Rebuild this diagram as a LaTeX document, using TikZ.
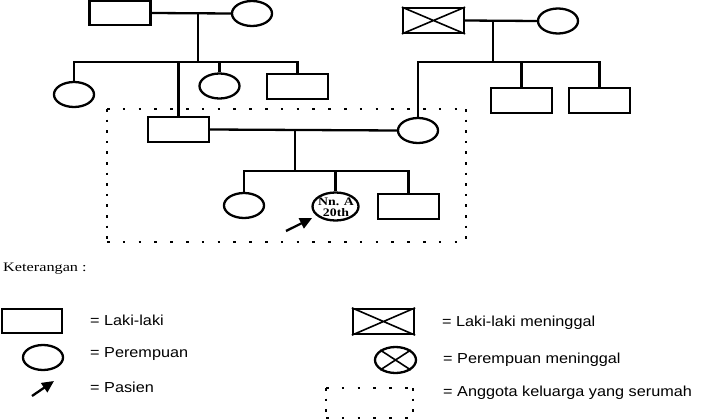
\documentclass[tikz,border=0pt]{standalone}
\usepackage{fontspec}
\setmainfont{Liberation Serif}
\newfontfamily\lsans[FakeStretch=1.12]{Liberation Sans}
\newfontfamily\kserif[FakeStretch=1.25]{Liberation Serif}
\newfontfamily\pserif[FakeStretch=1.2]{Liberation Serif Bold}
\usetikzlibrary{shapes.geometric,arrows.meta}
\tikzset{
  male/.style={draw, rectangle, line width=2.3pt, minimum width=61pt, minimum height=24.5pt, inner sep=0pt},
  female/.style={draw, ellipse, line width=2.3pt, minimum width=40pt, minimum height=25pt, inner sep=0pt},
  link/.style={line width=2.3pt},
  cross/.style={line width=1.6pt},
  dotsH/.style={line width=2.5pt, dash pattern=on 2.5pt off 13.3pt},
  dotsV/.style={line width=2.5pt, dash pattern=on 2.5pt off 8.1pt},
  patarrow/.style={line width=2.3pt, -{Triangle[length=12pt,width=11pt]}},
  legtext/.style={anchor=west, inner sep=0pt, font=\lsans\fontsize{14.5}{16}\selectfont},
}
\begin{document}
\begin{tikzpicture}[x=1pt,y=-1pt]
\useasboundingbox (0,0) rectangle (710,420);
% generation 1
\node[male] (gf1) at (120,13) {};
\node[female] (gm1) at (252,13.5) {};
\node[male] (gf2) at (433.5,20.5) {};
\draw[cross] (gf2.north west) -- (gf2.south east) (gf2.south west) -- (gf2.north east);
\node[female] (gm2) at (558,21) {};
\coordinate (m1) at (198,13);
\coordinate (s1) at (198,62);
\coordinate (m2) at (493,21);
\coordinate (s2) at (493,62);
% generation 2
\node[female] (a1) at (74,94.5) {};
\node[male] (f) at (178.5,129.5) {};
\node[female] (a3) at (219.5,86) {};
\node[male] (a4) at (297.5,86.5) {};
\node[female] (mo) at (418,130.5) {};
\node[male] (b2) at (521.5,100.5) {};
\node[male] (b3) at (599.5,100.5) {};
\coordinate (m3) at (295,130);
\coordinate (s3) at (295,171);
% generation 3
\node[female] (c1) at (244,205.5) {};
\node[female, minimum width=46pt, minimum height=28pt] (p) at (335.5,206.5) {};
\node[align=center, inner sep=0pt, font=\pserif\fontsize{11.5}{11}\selectfont] (ptext) at (336,207) {Nn. A\\20th};
\node[male] (c3) at (408.5,206.5) {};
% connectors gen1
\draw[link] (gf1.east) -- (gm1.west);
\draw[link] (m1) -- (s1);
\draw[link] (a1.north) -- (a1.north |- s1) -- (a4.north |- s1) -- (a4.north);
\draw[link] (f.north) -- (f.north |- s1);
\draw[link] (a3.north) -- (a3.north |- s1);
\draw[link] (gf2.east) -- (gm2.west);
\draw[link] (m2) -- (s2);
\draw[link] (mo.north) -- (mo.north |- s2) -- (b3.north |- s2) -- (b3.north);
\draw[link] (b2.north) -- (b2.north |- s2);
% connectors gen2
\draw[link] (f.east) -- (mo.west);
\draw[link] (m3) -- (s3);
\draw[link] (c1.north) -- (c1.north |- s3) -- (c3.north |- s3) -- (c3.north);
\draw[link] (p.north) -- (p.north |- s3);
% patient arrow
\coordinate (ar1) at (286,231);
\draw[patarrow, shorten >=5pt] (ar1) -- (p);
% household box
\draw[dotsH] (107,109) -- (466,109);
\draw[dotsH] (107,242) -- (466,242);
\draw[dotsV] (107,109) -- (107,242);
\draw[dotsV] (466,109) -- (466,242);
% legend
\node[anchor=west, inner sep=0pt, font=\kserif\fontsize{13}{15}\selectfont] (ket) at (3,269) {Keterangan :};
\node[male, minimum width=60pt] (lm) at (32,321) {};
\node[legtext] (lmt) at (90,320) {= Laki-laki};
\node[female] (lf) at (43,357.5) {};
\node[legtext] (lft) at (90,354) {= Perempuan};
\coordinate (la1) at (32,396);
\coordinate (la2) at (54,381);
\draw[patarrow] (la1) -- (la2);
\node[legtext] (lat) at (90,387) {= Pasien};
\node[male, minimum height=25pt] (lx) at (383.5,321.5) {};
\draw[cross] (lx.north west) -- (lx.south east) (lx.south west) -- (lx.north east);
\node[legtext] (lxt) at (442,323) {= Laki-laki meninggal};
\node[female, minimum width=41pt, minimum height=26pt] (lxf) at (395.5,360) {};
\draw[cross] (lxf.north west) -- (lxf.south east) (lxf.south west) -- (lxf.north east);
\node[legtext] (lxft) at (443,360) {= Perempuan meninggal};
\draw[dotsH] (326,388) -- (413,388);
\draw[dotsH] (326,418) -- (413,418);
\draw[dotsV] (326,388) -- (326,418);
\draw[dotsV] (413,388) -- (413,418);
\node[legtext] (ldt) at (443,393) {= Anggota keluarga yang serumah};
\end{tikzpicture}
\end{document}
